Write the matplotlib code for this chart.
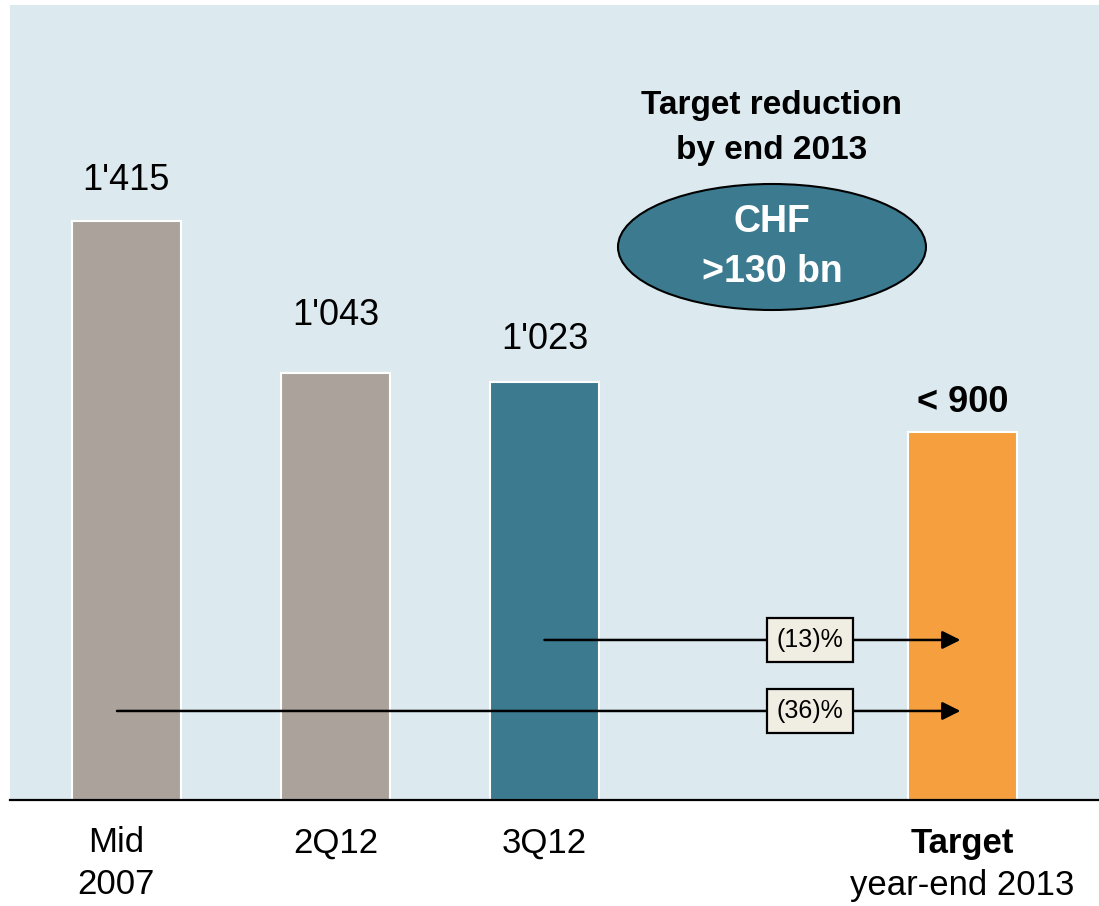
import matplotlib
matplotlib.use('Agg')
import matplotlib.pyplot as plt
from matplotlib.patches import Ellipse

plt.rcParams['font.family'] = ['Liberation Sans', 'DejaVu Sans']

# Chart data
positions = [0, 1, 2, 4]
values = [1415, 1043, 1023, 900]
value_labels = ["1'415", "1'043", "1'023", "< 900"]
tick_labels = ['Mid\n2007', '2Q12', '3Q12', 'Target\nyear-end 2013']
bar_colors = ['#aba29c', '#aba29c', '#3c7b8f', '#f59f3f']
reductions = ['(13)%', '(36)%']
arrow_start = [2, 0]   # bar position where each arrow starts
arrow_end = 4
callout_title = ['Target reduction', 'by end 2013']
callout_value = ['CHF', '>130 bn']

# Layout tweaks
label_gap = [31, 48, 33, 20]      # pixels between bar top and value label baseline
arrow_y = [0.2013, 0.112]         # axes fraction
arrow_shift = [0.0, -0.045]

fig = plt.figure(figsize=(10.99, 9.06), dpi=100)
ax = fig.add_axes([10 / 1099, 106 / 906, 1089 / 1099, 795 / 906])
ax.set_facecolor('#dceaf0')

ax.bar(positions, values, width=0.52, color=bar_colors,
       edgecolor='white', linewidth=1.5, zorder=2)
ax.set_xlim(-0.557, 4.653)
ax.set_ylim(0, 1944)

for side in ['top', 'left', 'right']:
    ax.spines[side].set_visible(False)
ax.spines['bottom'].set_linewidth(1.6)
ax.set_xticks([])
ax.set_yticks([])

# Value labels on top of bars
for i, (x, v, lab) in enumerate(zip(positions, values, value_labels)):
    bold = lab.startswith('<')
    ax.annotate(lab, xy=(x, v), xytext=(0, label_gap[i]), textcoords='offset pixels',
                ha='center', va='baseline', fontsize=26,
                fontweight='bold' if bold else 'normal')

# Category labels below the axis, one line at a time
for x, lab in zip(positions, tick_labels):
    for j, line in enumerate(lab.split('\n')):
        bold = line == 'Target'
        ax.annotate(line, xy=(x, 0), xycoords=('data', 'axes fraction'),
                    xytext=(-10 if x == 0 else 0, -43 - 42 * j), textcoords='offset pixels',
                    ha='center', va='center', fontsize=25,
                    fontweight='bold' if bold else 'normal')

# Reduction arrows with boxed percentages
for lab, x0, dx, y in zip(reductions, arrow_start, arrow_shift, arrow_y):
    ax.annotate('', xy=(arrow_end - 0.01, y), xycoords=('data', 'axes fraction'),
                xytext=(x0 + dx, y), textcoords=('data', 'axes fraction'),
                arrowprops=dict(arrowstyle='-|>,head_length=1.1,head_width=0.55',
                                color='black', lw=1.8, shrinkA=0, shrinkB=0),
                zorder=3)
    ax.text(3.27, y, lab, transform=ax.get_xaxis_transform(), ha='center', va='center',
            fontsize=18, zorder=4,
            bbox=dict(boxstyle='square,pad=0.4', fc='#f0ede2', ec='black', lw=1.6))

# Callout: target reduction
cx = 0.6997
for line, y in zip(callout_title, [0.874, 0.8176]):
    ax.text(cx, y, line, transform=ax.transAxes, ha='center', va='center',
            fontsize=24, fontweight='bold')
ax.add_patch(Ellipse((cx, 0.6956), 0.2828, 0.1585, transform=ax.transAxes,
                     fc='#3c7b8f', ec='black', lw=1.5, zorder=3))
for line, y in zip(callout_value, [0.727, 0.664]):
    ax.text(cx, y, line, transform=ax.transAxes, ha='center', va='center',
            fontsize=27, fontweight='bold', color='white', zorder=4)

fig.savefig('out.png', dpi=100)
